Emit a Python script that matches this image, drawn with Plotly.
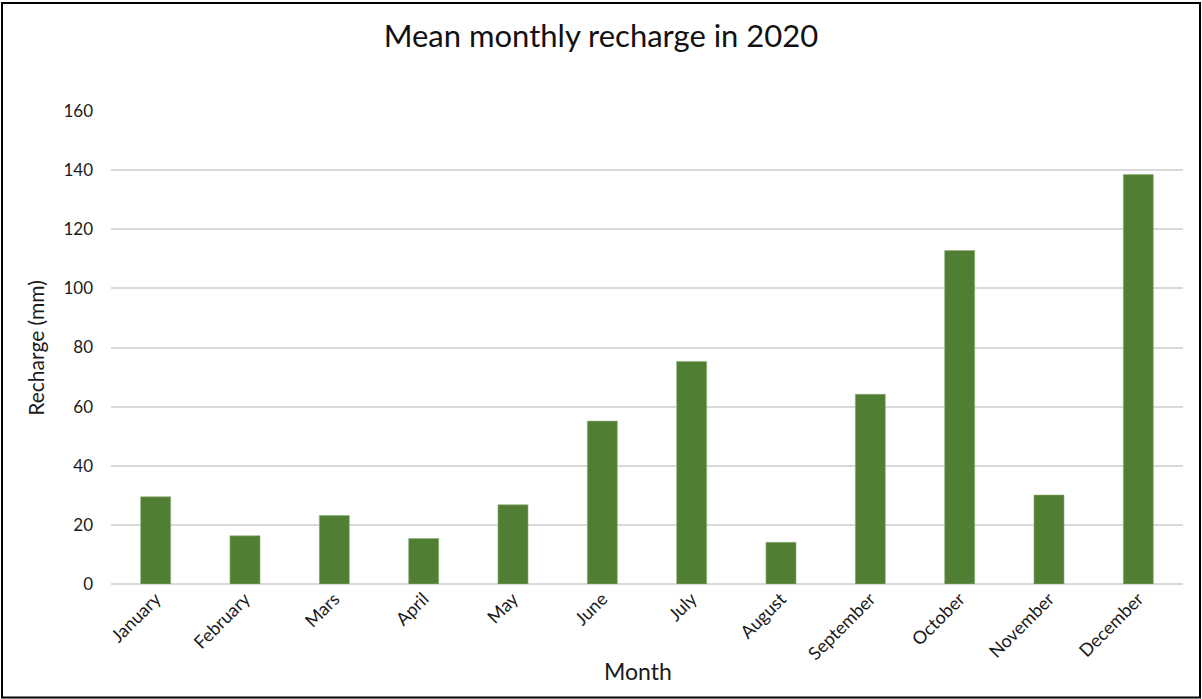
import plotly.graph_objects as go

months = ["January", "February", "Mars", "April", "May", "June", "July",
          "August", "September", "October", "November", "December"]
recharge_mm = [29.5, 16.3, 23.2, 15.4, 26.8, 55.1, 75.3, 14.1, 64.2, 112.8, 30.1, 138.5]
y_ticks = [0, 20, 40, 60, 80, 100, 120, 140, 160]

W, H = 1202, 699
L, R, T, B = 111, 19, 111, 114.5
pw, ph = W - L - R, H - T - B

def px_x(px):
    return (px - L) / pw

def px_y(py):
    return (H - B - py) / ph

font_family = "Lato, 'Open Sans', sans-serif"
text_color = "#1a1a1a"

fig = go.Figure(
    go.Bar(
        x=months,
        y=recharge_mm,
        marker=dict(color="#507E32", line=dict(color="#8fb07a", width=0.6)),
        hoverinfo="x+y",
    )
)

fig.update_layout(
    width=W,
    height=H,
    margin=dict(l=L, r=R, t=T, b=B, autoexpand=False),
    paper_bgcolor="white",
    plot_bgcolor="white",
    bargap=0.664,
    showlegend=False,
    font=dict(family=font_family, color=text_color),
    title=dict(
        text="Mean monthly recharge in 2020",
        x=0.5, xanchor="center",
        y=1 - 36 / H, yanchor="middle",
        font=dict(size=31, family=font_family, color="#111111"),
    ),
)

fig.update_xaxes(
    type="category",
    tickangle=-45,
    tickfont=dict(size=18, color=text_color),
    showgrid=False,
    showline=False,
    ticks="",
    automargin=False,
)

fig.update_yaxes(
    range=[0, 160],
    tickvals=y_ticks,
    tickfont=dict(size=17, color=text_color),
    showgrid=True,
    gridcolor="#d9d9d9",
    gridwidth=1.5,
    zeroline=True,
    zerolinecolor="#d9d9d9",
    zerolinewidth=1.5,
    showline=False,
    ticks="",
    ticklabelstandoff=17,
    automargin=False,
)

# axis titles
fig.add_annotation(
    text="Month", xref="paper", yref="paper",
    x=px_x(638), y=px_y(672), xanchor="center", yanchor="middle",
    showarrow=False, font=dict(size=23, color=text_color),
)
fig.add_annotation(
    text="Recharge (mm)", xref="paper", yref="paper",
    x=px_x(36), y=px_y(348), xanchor="center", yanchor="middle",
    textangle=-90, showarrow=False, font=dict(size=21, color=text_color),
)

# outer frame around the chart area
fig.add_shape(
    type="rect", xref="paper", yref="paper",
    x0=px_x(2), x1=px_x(1200), y0=px_y(698), y1=px_y(3),
    line=dict(color="black", width=2), fillcolor="rgba(0,0,0,0)", layer="above",
)

fig.write_html("out.html")
